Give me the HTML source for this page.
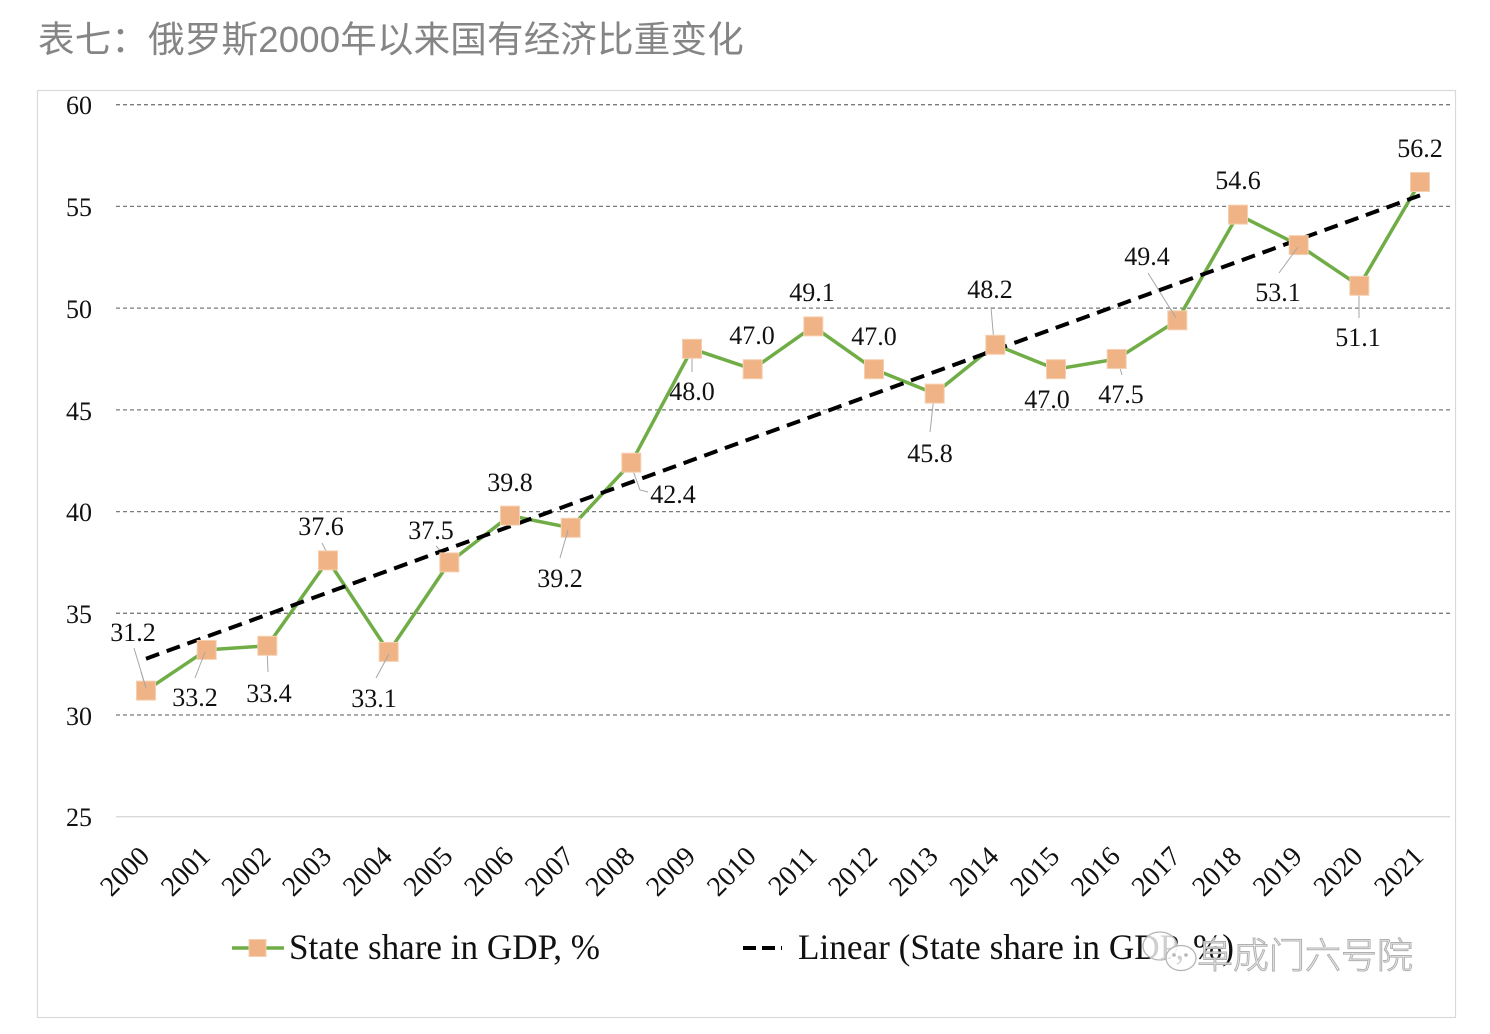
<!DOCTYPE html>
<html><head><meta charset="utf-8"><style>
html,body{margin:0;padding:0;background:#fff;}
svg{display:block;}
</style></head><body>
<svg width="1490" height="1034" viewBox="0 0 1490 1034" xmlns="http://www.w3.org/2000/svg">
<rect x="0" y="0" width="1490" height="1034" fill="#fff"/>
<text x="38" y="52" font-family="'Liberation Sans','Noto Sans CJK SC',sans-serif" font-size="36.5" fill="#858585" letter-spacing="0.2">表七：俄罗斯2000年以来国有经济比重变化</text>
<rect x="37.5" y="90.5" width="1418" height="927" fill="#fff" stroke="#d9d9d9" stroke-width="1.2"/>
<g stroke="#7a7a7a" stroke-width="1.3" stroke-dasharray="4 3" fill="none">
<line x1="116" y1="104.7" x2="1450" y2="104.7"/>
<line x1="116" y1="206.4" x2="1450" y2="206.4"/>
<line x1="116" y1="308.1" x2="1450" y2="308.1"/>
<line x1="116" y1="409.9" x2="1450" y2="409.9"/>
<line x1="116" y1="511.6" x2="1450" y2="511.6"/>
<line x1="116" y1="613.3" x2="1450" y2="613.3"/>
<line x1="116" y1="715" x2="1450" y2="715"/>
</g>
<line x1="116" y1="816.7" x2="1450" y2="816.7" stroke="#d9d9d9" stroke-width="1.3"/>
<g font-family="'Liberation Serif',serif" font-size="26" fill="#111" text-anchor="end">
<text x="92" y="114">60</text>
<text x="92" y="216">55</text>
<text x="92" y="318">50</text>
<text x="92" y="420">45</text>
<text x="92" y="521">40</text>
<text x="92" y="623">35</text>
<text x="92" y="725">30</text>
<text x="92" y="826">25</text>
</g>
<g font-family="'Liberation Serif',serif" font-size="28" fill="#111" text-anchor="end">
<text transform="translate(151,858) rotate(-45)">2000</text>
<text transform="translate(211.67,858) rotate(-45)">2001</text>
<text transform="translate(272.33,858) rotate(-45)">2002</text>
<text transform="translate(333,858) rotate(-45)">2003</text>
<text transform="translate(393.67,858) rotate(-45)">2004</text>
<text transform="translate(454.33,858) rotate(-45)">2005</text>
<text transform="translate(515,858) rotate(-45)">2006</text>
<text transform="translate(575.67,858) rotate(-45)">2007</text>
<text transform="translate(636.33,858) rotate(-45)">2008</text>
<text transform="translate(697,858) rotate(-45)">2009</text>
<text transform="translate(757.67,858) rotate(-45)">2010</text>
<text transform="translate(818.33,858) rotate(-45)">2011</text>
<text transform="translate(879,858) rotate(-45)">2012</text>
<text transform="translate(939.67,858) rotate(-45)">2013</text>
<text transform="translate(1000.33,858) rotate(-45)">2014</text>
<text transform="translate(1061,858) rotate(-45)">2015</text>
<text transform="translate(1121.67,858) rotate(-45)">2016</text>
<text transform="translate(1182.33,858) rotate(-45)">2017</text>
<text transform="translate(1243,858) rotate(-45)">2018</text>
<text transform="translate(1303.67,858) rotate(-45)">2019</text>
<text transform="translate(1364.33,858) rotate(-45)">2020</text>
<text transform="translate(1425,858) rotate(-45)">2021</text>
</g>
<!-- leader lines -->
<g stroke="#a6a6a6" stroke-width="1" fill="none">
<line x1="134" y1="648" x2="146" y2="688"/>
<line x1="195" y1="678" x2="205" y2="652"/>
<line x1="268" y1="672" x2="267" y2="648"/>
<line x1="322" y1="543" x2="329" y2="557"/>
<line x1="376" y1="678" x2="389" y2="654"/>
<line x1="436" y1="546" x2="449" y2="560"/>
<line x1="560" y1="558" x2="568" y2="530"/>
<polyline points="631,465 640,490 648,492"/>
<line x1="692" y1="351" x2="692" y2="372"/>
<line x1="934" y1="396" x2="930" y2="432"/>
<line x1="991" y1="307" x2="994" y2="343"/>
<line x1="1118" y1="361" x2="1122" y2="375"/>
<line x1="1148" y1="273" x2="1176" y2="318"/>
<line x1="1279" y1="273" x2="1298" y2="247"/>
<line x1="1359" y1="290" x2="1359" y2="318"/>
</g>
<!-- series -->
<polyline fill="none" stroke="#70AD47" stroke-width="3.5" stroke-linejoin="round" points="146,690.6 206.67,649.9 267.33,645.8 328,560.4 388.67,651.9 449.33,562.4 510,515.6 570.67,527.8 631.33,462.7 692,348.8 752.67,369.2 813.33,326.4 874,369.2 934.67,393.6 995.33,344.8 1056,369.2 1116.67,359 1177.33,320.3 1238,214.6 1298.67,245.1 1359.33,285.8 1420,182"/>
<line x1="146" y1="658.7" x2="1420" y2="195.4" stroke="#000" stroke-width="4" stroke-dasharray="14 8"/>
<g fill="#F0B386" stroke="#F6CFB0" stroke-width="1">
<rect x="136.5" y="681.1" width="19" height="19"/>
<rect x="197.17" y="640.4" width="19" height="19"/>
<rect x="257.83" y="636.3" width="19" height="19"/>
<rect x="318.5" y="550.9" width="19" height="19"/>
<rect x="379.17" y="642.4" width="19" height="19"/>
<rect x="439.83" y="552.9" width="19" height="19"/>
<rect x="500.5" y="506.1" width="19" height="19"/>
<rect x="561.17" y="518.3" width="19" height="19"/>
<rect x="621.83" y="453.2" width="19" height="19"/>
<rect x="682.5" y="339.3" width="19" height="19"/>
<rect x="743.17" y="359.7" width="19" height="19"/>
<rect x="803.83" y="316.9" width="19" height="19"/>
<rect x="864.5" y="359.7" width="19" height="19"/>
<rect x="925.17" y="384.1" width="19" height="19"/>
<rect x="985.83" y="335.3" width="19" height="19"/>
<rect x="1046.5" y="359.7" width="19" height="19"/>
<rect x="1107.17" y="349.5" width="19" height="19"/>
<rect x="1167.83" y="310.8" width="19" height="19"/>
<rect x="1228.5" y="205.1" width="19" height="19"/>
<rect x="1289.17" y="235.6" width="19" height="19"/>
<rect x="1349.83" y="276.3" width="19" height="19"/>
<rect x="1410.5" y="172.5" width="19" height="19"/>
</g>
<g stroke="#a6a6a6" stroke-width="1" fill="none">
<line x1="146" y1="688" x2="141" y2="672"/>
<line x1="205" y1="652" x2="202" y2="660"/>
<line x1="389" y1="654" x2="384" y2="663"/>
<line x1="568" y1="530" x2="566" y2="538"/>
<line x1="1176" y1="318" x2="1170" y2="308"/>
<line x1="1298" y1="247" x2="1292" y2="255"/>
</g>
<!-- data labels -->
<g font-family="'Liberation Serif',serif" font-size="26" fill="#111" text-anchor="middle">
<text x="133" y="641">31.2</text>
<text x="195" y="706">33.2</text>
<text x="269" y="702">33.4</text>
<text x="321" y="535">37.6</text>
<text x="374" y="707">33.1</text>
<text x="431" y="539">37.5</text>
<text x="510" y="491">39.8</text>
<text x="560" y="587">39.2</text>
<text x="673" y="503">42.4</text>
<text x="692" y="400">48.0</text>
<text x="752" y="344">47.0</text>
<text x="812" y="301">49.1</text>
<text x="874" y="345">47.0</text>
<text x="930" y="462">45.8</text>
<text x="990" y="298">48.2</text>
<text x="1047" y="408">47.0</text>
<text x="1121" y="403">47.5</text>
<text x="1147" y="265">49.4</text>
<text x="1238" y="189">54.6</text>
<text x="1278" y="301">53.1</text>
<text x="1358" y="346">51.1</text>
<text x="1420" y="157">56.2</text>
</g>
<!-- legend -->
<line x1="232" y1="948" x2="284" y2="948" stroke="#70AD47" stroke-width="3.5"/>
<rect x="249" y="939.5" width="17" height="17" fill="#F0B386" stroke="#F6CFB0" stroke-width="1"/>
<text x="289" y="959" font-family="'Liberation Serif',serif" font-size="36" fill="#111" textLength="311" lengthAdjust="spacingAndGlyphs">State share in GDP, %</text>
<line x1="743" y1="948" x2="782" y2="948" stroke="#000" stroke-width="4" stroke-dasharray="13 6"/>
<text x="798" y="959" font-family="'Liberation Serif',serif" font-size="36" fill="#111" textLength="436" lengthAdjust="spacingAndGlyphs">Linear (State share in GDP, %)</text>
<!-- watermark -->
<g fill="#ffffff" fill-opacity="0.8" stroke="#b5b5b5" stroke-width="1.3">
<ellipse cx="1160" cy="946" rx="17" ry="14"/>
<ellipse cx="1181" cy="958" rx="15" ry="12.5"/>
</g>
<g fill="#b5b5b5">
<circle cx="1174" cy="955" r="1.8"/>
<circle cx="1186" cy="955" r="1.8"/>
</g>
<text x="1197" y="968" font-family="'Noto Sans CJK SC','WenQuanYi Zen Hei',sans-serif" font-size="36" font-weight="300" fill="#eeeeee" fill-opacity="0.85" stroke="#b0b0b0" stroke-width="1">阜成门六号院</text>
</svg>
</body></html>
